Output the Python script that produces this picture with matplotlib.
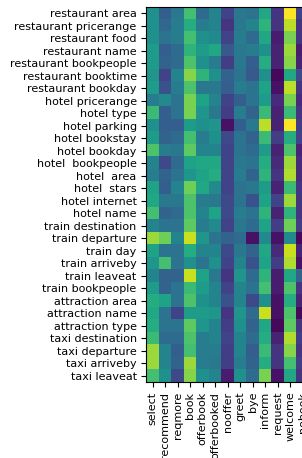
import numpy as np
import matplotlib
matplotlib.use('Agg')
import matplotlib.pyplot as plt

slots = ['restaurant area', 'restaurant pricerange', 'restaurant food',
         'restaurant name', 'restaurant bookpeople', 'restaurant booktime',
         'restaurant bookday', 'hotel pricerange', 'hotel type',
         'hotel parking', 'hotel bookstay', 'hotel bookday',
         'hotel  bookpeople', 'hotel  area', 'hotel  stars',
         'hotel internet', 'hotel name', 'train destination',
         'train departure', 'train day', 'train arriveby', 'train leaveat',
         'train bookpeople', 'attraction area', 'attraction name',
         'attraction type', 'taxi destination', 'taxi departure',
         'taxi arriveby', 'taxi leaveat']

acts = ['select', 'recommend', 'reqmore', 'book', 'offerbook',
        'offerbooked', 'nooffer', 'greet', 'bye', 'inform', 'request',
        'welcome', 'nobook']

# weights, one row per slot
weights = np.array([
    [0.50, 0.30, 0.40, 0.70, 0.35, 0.45, 0.20, 0.40, 0.38, 0.60, 0.15, 1.00, 0.20],
    [0.50, 0.33, 0.42, 0.62, 0.42, 0.45, 0.15, 0.40, 0.45, 0.65, 0.15, 0.90, 0.15],
    [0.50, 0.38, 0.42, 0.70, 0.50, 0.48, 0.20, 0.42, 0.35, 0.60, 0.08, 0.80, 0.15],
    [0.55, 0.30, 0.35, 0.65, 0.55, 0.60, 0.28, 0.40, 0.42, 0.50, 0.10, 0.85, 0.08],
    [0.55, 0.32, 0.35, 0.72, 0.50, 0.42, 0.18, 0.40, 0.30, 0.62, 0.10, 0.82, 0.10],
    [0.52, 0.20, 0.45, 0.82, 0.65, 0.50, 0.32, 0.38, 0.28, 0.50, 0.02, 0.60, 0.22],
    [0.55, 0.25, 0.42, 0.72, 0.40, 0.40, 0.30, 0.42, 0.38, 0.58, 0.05, 0.90, 0.15],
    [0.42, 0.48, 0.38, 0.80, 0.58, 0.45, 0.20, 0.30, 0.38, 0.55, 0.12, 0.80, 0.12],
    [0.68, 0.30, 0.38, 0.80, 0.52, 0.40, 0.18, 0.42, 0.32, 0.68, 0.10, 0.68, 0.15],
    [0.50, 0.30, 0.30, 0.55, 0.50, 0.52, 0.05, 0.30, 0.40, 0.90, 0.10, 1.00, 0.18],
    [0.55, 0.32, 0.35, 0.70, 0.42, 0.50, 0.22, 0.38, 0.32, 0.68, 0.18, 0.62, 0.20],
    [0.72, 0.42, 0.40, 0.75, 0.45, 0.45, 0.20, 0.38, 0.35, 0.55, 0.10, 0.72, 0.10],
    [0.45, 0.22, 0.35, 0.58, 0.60, 0.60, 0.20, 0.40, 0.38, 0.62, 0.12, 0.85, 0.12],
    [0.42, 0.32, 0.38, 0.52, 0.58, 0.62, 0.20, 0.42, 0.32, 0.65, 0.15, 0.88, 0.12],
    [0.58, 0.30, 0.45, 0.78, 0.60, 0.48, 0.20, 0.38, 0.40, 0.55, 0.10, 0.68, 0.15],
    [0.60, 0.40, 0.40, 0.72, 0.42, 0.40, 0.22, 0.38, 0.25, 0.58, 0.20, 0.85, 0.15],
    [0.70, 0.32, 0.35, 0.72, 0.45, 0.58, 0.22, 0.42, 0.38, 0.65, 0.10, 0.65, 0.15],
    [0.45, 0.38, 0.38, 0.75, 0.42, 0.48, 0.20, 0.40, 0.35, 0.58, 0.18, 0.78, 0.18],
    [0.85, 0.78, 0.45, 0.92, 0.52, 0.38, 0.32, 0.35, 0.05, 0.48, 0.05, 0.48, 0.02],
    [0.58, 0.38, 0.38, 0.62, 0.45, 0.45, 0.22, 0.40, 0.32, 0.60, 0.12, 0.92, 0.10],
    [0.52, 0.70, 0.38, 0.50, 0.38, 0.50, 0.20, 0.45, 0.25, 0.58, 0.18, 0.88, 0.05],
    [0.45, 0.32, 0.32, 0.92, 0.58, 0.40, 0.15, 0.52, 0.35, 0.65, 0.08, 0.60, 0.32],
    [0.55, 0.32, 0.38, 0.68, 0.55, 0.45, 0.20, 0.45, 0.38, 0.70, 0.08, 0.72, 0.15],
    [0.62, 0.58, 0.38, 0.72, 0.50, 0.45, 0.25, 0.45, 0.22, 0.50, 0.05, 0.62, 0.10],
    [0.60, 0.38, 0.20, 0.55, 0.55, 0.52, 0.15, 0.52, 0.35, 0.92, 0.05, 0.72, 0.02],
    [0.62, 0.38, 0.38, 0.75, 0.52, 0.45, 0.18, 0.50, 0.32, 0.60, 0.02, 0.75, 0.15],
    [0.68, 0.35, 0.35, 0.72, 0.42, 0.45, 0.20, 0.45, 0.35, 0.62, 0.10, 0.88, 0.18],
    [0.85, 0.45, 0.30, 0.70, 0.42, 0.42, 0.18, 0.45, 0.30, 0.68, 0.15, 0.82, 0.15],
    [0.85, 0.45, 0.32, 0.85, 0.42, 0.40, 0.18, 0.42, 0.32, 0.62, 0.15, 0.70, 0.18],
    [0.70, 0.50, 0.22, 0.82, 0.50, 0.45, 0.08, 0.50, 0.35, 0.80, 0.05, 0.60, 0.15],
])

fig = plt.figure(figsize=(3.02, 4.58), dpi=100)
# the heatmap runs off the right edge in the original
ax = fig.add_axes([0.485, 0.166, 0.538, 0.819])
ax.imshow(weights, cmap='viridis', vmin=0, vmax=1, aspect='auto',
          interpolation='nearest')
ax.set_xticks(np.arange(len(acts)))
ax.set_xticklabels(acts, rotation=90, fontsize=8)
ax.set_yticks(np.arange(len(slots)))
ax.set_yticklabels(slots, fontsize=8)

fig.savefig('out.png', dpi=100)
